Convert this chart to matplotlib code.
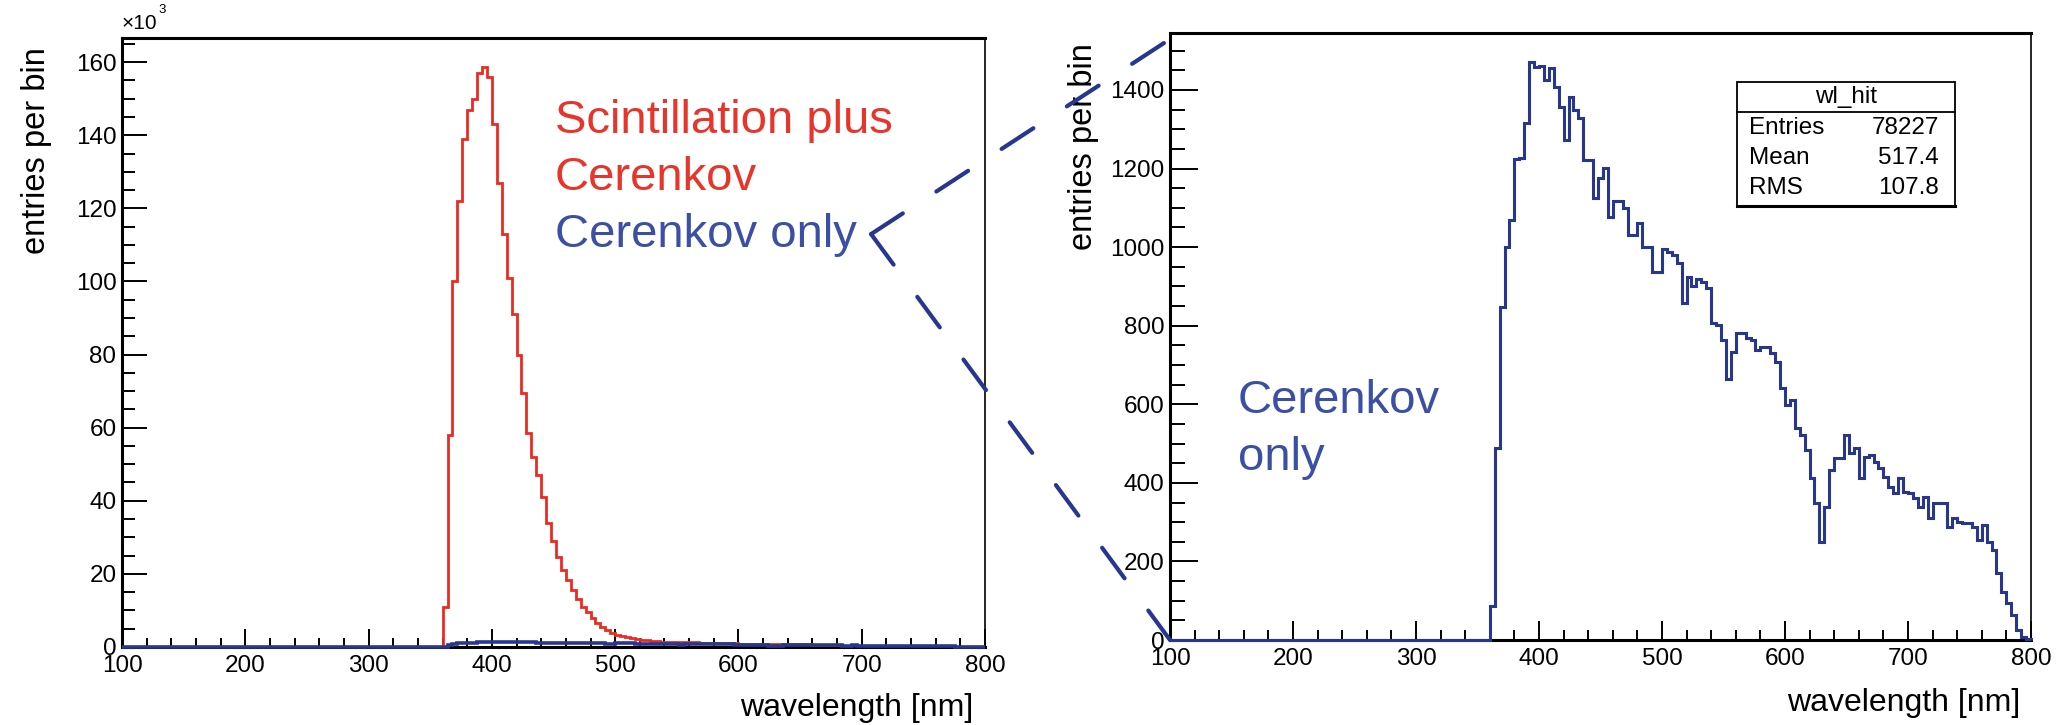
import numpy as np
import matplotlib.pyplot as plt
from matplotlib.patches import ConnectionPatch, Rectangle
from matplotlib.ticker import MultipleLocator

plt.rcParams['font.family'] = ['Liberation Sans', 'DejaVu Sans']

# wl_hit binning: 4 nm bins between 100 and 800 nm, empty below 360 nm
x_lo, x_hi = 100, 800
bin_width = 4
first_filled = 360

# Cerenkov only, entries per bin from 360 nm up
cerenkov = [
    87, 488, 847, 1001, 1069, 1224, 1228, 1315, 1471, 1459,
    1462, 1425, 1455, 1408, 1357, 1272, 1381, 1349, 1328, 1221,
    1221, 1125, 1176, 1201, 1077, 1118, 1118, 1100, 1031, 1031,
    1061, 1001, 1001, 937, 937, 996, 988, 980, 959, 857,
    925, 900, 918, 912, 896, 806, 801, 763, 664, 733,
    781, 781, 768, 763, 738, 746, 746, 730, 708, 641,
    598, 611, 540, 522, 483, 412, 348, 250, 339, 432,
    463, 463, 522, 476, 488, 412, 466, 470, 454, 438,
    415, 390, 374, 412, 377, 374, 361, 339, 365, 310,
    348, 349, 349, 288, 310, 301, 297, 297, 288, 254,
    292, 250, 229, 170, 123, 95, 64, 25, 8, 2,
]

# scintillation plus Cerenkov, entries per bin in thousands from 360 nm up
scint_plus_cer = [
    11, 58, 100, 122, 139, 147, 150, 157, 158.6, 156,
    143, 127, 113, 101, 91, 80, 69.5, 58.5, 52, 47,
    41, 34, 29, 24.7, 21, 18.3, 15.5, 13, 11, 9.5,
    7.9, 6.5, 5.5, 4.6, 3.9, 3.3, 3.0, 2.7, 2.4, 2.2,
    2.0, 1.8, 1.7, 1.6, 1.5, 1.45, 1.42, 1.4, 1.38, 1.35,
    1.3, 1.25, 1.2, 1.15, 1.12, 1.1, 1.05, 1.02, 1.0, 0.98,
    0.95, 0.95, 0.92, 0.9, 0.88, 0.85, 0.82, 0.8, 0.78, 0.76,
    0.75, 0.74, 0.72, 0.7, 0.7, 0.68, 0.66, 0.65, 0.63, 0.6,
]

stats_rows = [('Entries', '78227'), ('Mean', '517.4'), ('RMS', '107.8')]

edges = np.arange(x_lo, x_hi + bin_width, bin_width)
n_bins = len(edges) - 1
start = (first_filled - x_lo) // bin_width


def full_hist(vals):
    out = np.zeros(n_bins)
    out[start:start + len(vals)] = vals
    return out


cer = full_hist(cerenkov)
tot = full_hist(scint_plus_cer)

RED_LINE = '#ec2a22'
RED_TEXT = '#e8352c'
BLUE_LINE = '#27368f'
BLUE_TEXT = '#3b4fa5'

fig = plt.figure(figsize=(20.65, 7.25), dpi=100)
ax1 = fig.add_axes([0.0591, 0.1076, 0.4179, 0.8400])
ax2 = fig.add_axes([0.5666, 0.1172, 0.4169, 0.8373])


def root_style(ax, ymajor, yminor, ylen, xlen):
    ax.set_xlim(x_lo, x_hi)
    ax.xaxis.set_major_locator(MultipleLocator(100))
    ax.xaxis.set_minor_locator(MultipleLocator(20))
    ax.yaxis.set_major_locator(MultipleLocator(ymajor))
    ax.yaxis.set_minor_locator(MultipleLocator(yminor))
    ax.tick_params(which='both', direction='in', width=1.4, labelsize=17.5,
                   top=False, right=False)
    ax.tick_params(axis='x', which='major', length=xlen[0], pad=6)
    ax.tick_params(axis='x', which='minor', length=xlen[1])
    ax.tick_params(axis='y', which='major', length=ylen[0], pad=4)
    ax.tick_params(axis='y', which='minor', length=ylen[1])
    for side in ('left', 'top', 'bottom'):
        ax.spines[side].set_linewidth(2.2)
    ax.spines['right'].set_linewidth(1.2)
    ax.set_xlabel('wavelength [nm]', fontsize=23, ha='right')
    ax.set_ylabel('entries per bin', fontsize=23.5, loc='top')


# left: both spectra, y in units of 10^3
ax1.stairs(tot, edges, color=RED_LINE, lw=2.0, zorder=3)
ax1.stairs(cer / 1000, edges, color=BLUE_LINE, lw=2.6, zorder=4, clip_on=False)
ax1.set_ylim(0, 166.6)
root_style(ax1, 20, 5, (18, 9.5), (13, 6.5))
ax1.xaxis.set_label_coords(0.986, -0.0755)
ax1.yaxis.set_label_coords(-0.081, 0.985)
ax1.text(0.0, 1.008, '×10', transform=ax1.transAxes, fontsize=15,
         ha='left', va='bottom')
ax1.text(0.042, 1.036, '3', transform=ax1.transAxes, fontsize=9.5,
         ha='left', va='bottom')

ax1.text(0.5017, 0.844, 'Scintillation plus', transform=ax1.transAxes,
         fontsize=34, color=RED_TEXT, va='baseline')
ax1.text(0.5017, 0.750, 'Cerenkov', transform=ax1.transAxes,
         fontsize=34, color=RED_TEXT, va='baseline')
ax1.text(0.5017, 0.657, 'Cerenkov only', transform=ax1.transAxes,
         fontsize=34, color=BLUE_TEXT, va='baseline')

# right: Cerenkov only, full scale
ax2.stairs(cer, edges, color=BLUE_LINE, lw=2.2, zorder=4, clip_on=False)
ax2.set_ylim(0, 1545)
root_style(ax2, 200, 50, (20, 11), (14, 7))
ax2.xaxis.set_label_coords(0.988, -0.079)
ax2.yaxis.set_label_coords(-0.0825, 0.983)

ax2.text(0.079, 0.374, 'Cerenkov', transform=ax2.transAxes,
         fontsize=34, color=BLUE_TEXT, va='baseline')
ax2.text(0.079, 0.280, 'only', transform=ax2.transAxes,
         fontsize=34, color=BLUE_TEXT, va='baseline')

# stats box
bx0, bx1, by0, by1, bsep = 0.6585, 0.9117, 0.715, 0.9193, 0.870
ax2.add_patch(Rectangle((bx0, by0), bx1 - bx0, by1 - by0, transform=ax2.transAxes,
                        facecolor='white', edgecolor='black', lw=1.3, zorder=5))
ax2.plot([bx0, bx1], [bsep, bsep], transform=ax2.transAxes, color='black',
         lw=1.3, zorder=6)
ax2.plot([bx0, bx1], [by0, by0], transform=ax2.transAxes, color='black',
         lw=2.2, zorder=6)
ax2.text((bx0 + bx1) / 2, (by1 + bsep) / 2, 'wl_hit', transform=ax2.transAxes,
         fontsize=17.5, ha='center', va='center', zorder=7)
for (name, val), yy in zip(stats_rows, [0.8435, 0.794, 0.7446]):
    ax2.text(0.6725, yy, name, transform=ax2.transAxes, fontsize=17.5,
             ha='left', va='center', zorder=7)
    ax2.text(0.8931, yy, val, transform=ax2.transAxes, fontsize=17.5,
             ha='right', va='center', zorder=7)

# dashed zoom lines from the Cerenkov label to the right-hand frame
apex = (0.868, 0.678)
for corner in [(0.0, 0.99), (0.0, 0.0)]:
    con = ConnectionPatch(xyA=apex, coordsA='axes fraction', axesA=ax1,
                          xyB=corner, coordsB='axes fraction', axesB=ax2,
                          color=BLUE_LINE, lw=3, linestyle=(0, (9.1, 9.6)),
                          zorder=10)
    fig.add_artist(con)

fig.savefig('out.png', dpi=100)
